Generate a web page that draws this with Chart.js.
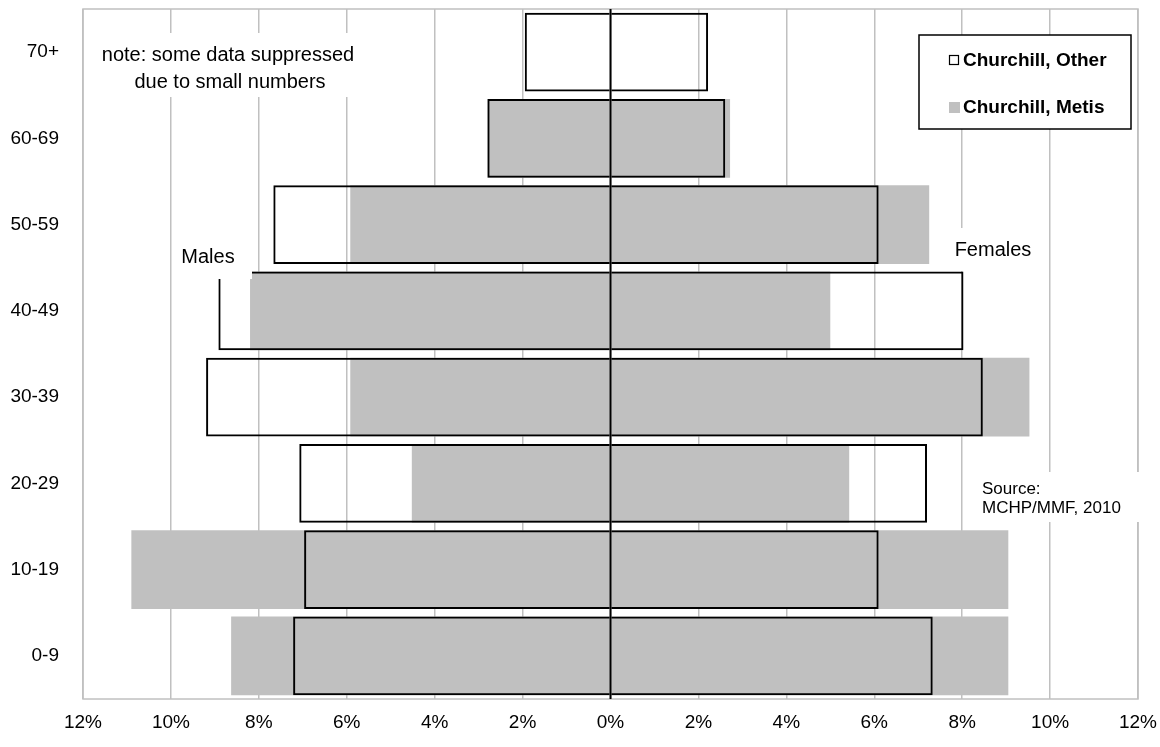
<!DOCTYPE html>
<html>
<head>
<meta charset="utf-8">
<script src="https://cdn.jsdelivr.net/npm/chart.js@4.4.1/dist/chart.umd.min.js"></script>
<style>
  html, body { margin: 0; padding: 0; background: #fff; }
  #wrap { width: 1160px; height: 747px; }
</style>
</head>
<body>
<div id="wrap"><canvas id="piramide" width="1160" height="747"></canvas></div>
<script>
// age groups, top to bottom
const ageGroups = ['70+', '60-69', '50-59', '40-49', '30-39', '20-29', '10-19', '0-9'];

// % of population (males stored positive, drawn to the left)
const metisMales   = [null, 2.8, 5.92, 8.2, 5.92, 4.52, 10.9, 8.63];
const metisFemales = [null, 2.72, 7.25, 5.0, 9.53, 5.43, 9.05, 9.05];
const otherMales   = [1.95, 2.8, 7.67, 8.92, 9.2, 7.08, 6.97, 7.22];
const otherFemales = [2.22, 2.61, 6.1, 8.03, 8.47, 7.2, 6.1, 7.33];

// x axis range / ticks (percent)
const xMin = -12, xMax = 12, xStep = 2;

const FONT = '"Liberation Sans", Arial, sans-serif';
const GRIS = '#C0C0C0';

const neg = arr => arr.map(v => v == null ? null : -v);

// frame + black zero line + text boxes + legend
const extras = {
  id: 'extras',
  beforeDatasetsDraw(chart) {
    const { ctx, chartArea: a } = chart;
    ctx.save();
    ctx.strokeStyle = GRIS;
    ctx.lineWidth = 1.5;
    ctx.strokeRect(a.left, a.top, a.right - a.left, a.bottom - a.top);
    ctx.restore();
  },
  afterDatasetsDraw(chart) {
    const { ctx, chartArea: a, scales } = chart;
    const x0 = scales.x.getPixelForValue(0);
    ctx.save();
    ctx.strokeStyle = '#000';
    ctx.lineWidth = 2;
    ctx.beginPath();
    ctx.moveTo(x0, a.top);
    ctx.lineTo(x0, a.bottom);
    ctx.stroke();

    const blanco = (l, t, r, b) => { ctx.fillStyle = '#fff'; ctx.fillRect(l, t, r - l, b - t); };
    ctx.textBaseline = 'middle';

    // note
    blanco(92, 33, 365, 97);
    ctx.fillStyle = '#000';
    ctx.font = '20px ' + FONT;
    ctx.textAlign = 'center';
    ctx.fillText('note: some data suppressed', 228, 55);
    ctx.fillText('due to small numbers', 230, 82);

    // Males
    blanco(176, 238, 252, 279);
    ctx.fillStyle = '#000';
    ctx.fillText('Males', 208, 257);

    // Females
    blanco(950, 228, 1040, 271);
    ctx.fillStyle = '#000';
    ctx.fillText('Females', 993, 250);

    // source
    blanco(975, 472, 1145, 522);
    ctx.fillStyle = '#000';
    ctx.font = '17px ' + FONT;
    ctx.textAlign = 'left';
    ctx.fillText('Source:', 982, 489);
    ctx.fillText('MCHP/MMF, 2010', 982, 508);

    // legend
    blanco(919, 35, 1131, 129);
    ctx.strokeStyle = '#000';
    ctx.lineWidth = 1.5;
    ctx.strokeRect(919, 35, 212, 94);
    ctx.lineWidth = 1.2;
    ctx.strokeRect(949.5, 55.5, 9, 9);
    ctx.fillStyle = GRIS;
    ctx.fillRect(949, 102, 11, 11);
    ctx.fillStyle = '#000';
    ctx.font = 'bold 19px ' + FONT;
    ctx.fillText('Churchill, Other', 963, 61);
    ctx.fillText('Churchill, Metis', 963, 108);
    ctx.restore();
  }
};

document.addEventListener('DOMContentLoaded', () => {
  const ctx = document.getElementById('piramide').getContext('2d');
  new Chart(ctx, {
    type: 'bar',
    data: {
      labels: ageGroups,
      datasets: [
        { label: 'Churchill, Other', data: neg(otherMales), order: 0,
          backgroundColor: 'rgba(0,0,0,0)', borderColor: '#000', borderWidth: 2 },
        { label: 'Churchill, Other', data: otherFemales, order: 0,
          backgroundColor: 'rgba(0,0,0,0)', borderColor: '#000', borderWidth: 2 },
        { label: 'Churchill, Metis', data: neg(metisMales), order: 1,
          backgroundColor: GRIS, borderWidth: 0 },
        { label: 'Churchill, Metis', data: metisFemales, order: 1,
          backgroundColor: GRIS, borderWidth: 0 }
      ]
    },
    options: {
      indexAxis: 'y',
      responsive: false,
      animation: false,
      devicePixelRatio: 1,
      grouped: false,
      categoryPercentage: 1,
      barPercentage: 0.915,
      layout: { autoPadding: false, padding: { top: 9, right: 22, left: 0, bottom: 0 } },
      plugins: { legend: { display: false }, tooltip: { enabled: false } },
      scales: {
        x: {
          min: xMin, max: xMax,
          border: { display: false },
          grid: { color: GRIS, lineWidth: 1.5, drawTicks: false },
          ticks: {
            stepSize: xStep,
            padding: 12,
            maxRotation: 0,
            autoSkip: false,
            color: '#000',
            font: { family: FONT, size: 19 },
            callback: v => Math.abs(v) + '%'
          },
          afterFit(s) { s.height = 48; s.paddingLeft = 0; s.paddingRight = 0; }
        },
        y: {
          border: { display: false },
          grid: { display: false, drawTicks: false },
          ticks: {
            padding: 24,
            autoSkip: false,
            color: '#000',
            font: { family: FONT, size: 19 }
          },
          afterFit(s) { s.width = 83; s.paddingTop = 0; s.paddingBottom = 0; }
        }
      }
    },
    plugins: [extras]
  });
});
</script>
</body>
</html>
